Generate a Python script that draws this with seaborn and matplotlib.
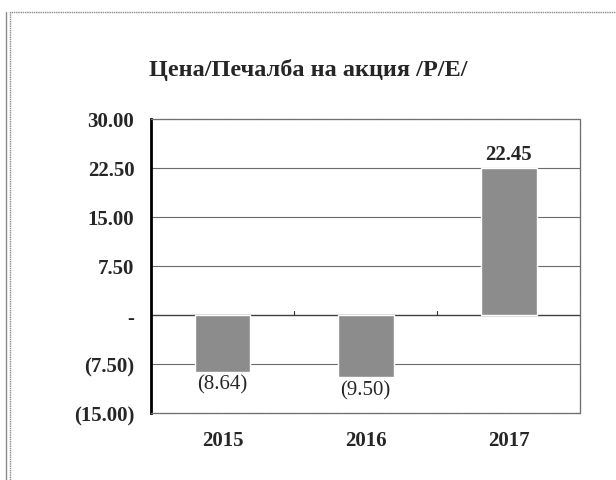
import matplotlib
matplotlib.use('Agg')
import matplotlib.pyplot as plt
import matplotlib.patches as mpatches
import seaborn as sns
import pandas as pd

years = ['2015', '2016', '2017']
pe_values = [-8.64, -9.50, 22.45]
y_ticks = [-15.0, -7.5, 0.0, 7.5, 15.0, 22.5, 30.0]

df = pd.DataFrame({'year': years, 'pe': pe_values})

sns.set_theme(style='white')
plt.rcParams['font.family'] = ['Liberation Serif', 'DejaVu Serif']

fig = plt.figure(figsize=(6.16, 4.81), dpi=100)
ax = fig.add_axes([0.245, 0.139, 0.697, 0.612])

sns.barplot(data=df, x='year', y='pe', color='#8c8c8c', width=0.39,
            saturation=1, ax=ax, zorder=3)

ax.set_xlim(-0.5, 2.5)
ax.set_ylim(-15, 30)
ax.set_yticks(y_ticks)


def acct(v):
    if v == 0:
        return '-'
    if v < 0:
        return f'({abs(v):.2f})'
    return f'{v:.2f}'


ax.set_yticklabels([acct(v) for v in y_ticks], fontsize=15, fontweight='bold')
ax.set_xticklabels(years, fontsize=15, fontweight='bold')
ax.tick_params(axis='y', length=0, pad=12)
ax.tick_params(axis='x', length=0, pad=12)
ax.set_xlabel('')
ax.set_ylabel('')

for v in y_ticks[1:-1]:
    ax.axhline(v, color='#404040' if v == 0 else '#6a6a6a',
               lw=1.0 if v == 0 else 0.8, zorder=1)

for i, v in enumerate(pe_values):
    if v >= 0:
        ax.annotate(acct(v), (i, v), xytext=(0, 3), textcoords='offset points',
                    ha='center', va='bottom', fontsize=15, fontweight='bold')
    else:
        ax.annotate(acct(v), (i, v), xytext=(0, -2), textcoords='offset points',
                    ha='center', va='top', fontsize=15)

# small ticks at category boundaries on the zero line
for b in [0.5, 1.5]:
    ax.plot([b, b], [0, 0.6], color='#303030', lw=0.8, zorder=2)

for s in ['top', 'right', 'bottom']:
    ax.spines[s].set_color('#707070')
    ax.spines[s].set_linewidth(0.9)
    ax.spines[s].set_linestyle((0, (1, 0.5)))
ax.spines['left'].set_color('black')
ax.spines['left'].set_linewidth(2)

fig.text(0.5, 0.855, 'Цена/Печалба на акция /P/E/', ha='center', va='center',
         fontsize=17.5, fontweight='bold')

# outer chart frame
frame = mpatches.Rectangle((0.016, -0.01), 1.0, 0.982, transform=fig.transFigure,
                           fill=False, edgecolor='#8a8a8a', lw=1.0,
                           linestyle=(0, (1, 0.6)))
fig.patches.append(frame)
fig.add_artist(plt.Line2D([0.01, 0.01], [0, 0.972], transform=fig.transFigure,
                          color='#8a8a8a', lw=1.0))

plt.savefig('out.png', dpi=100)
